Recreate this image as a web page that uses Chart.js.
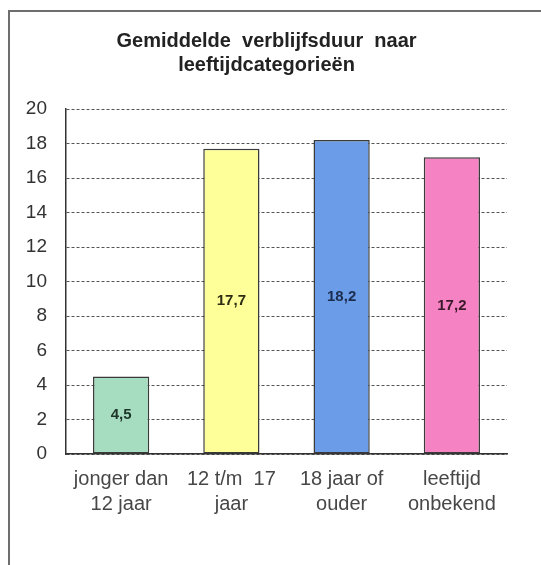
<!DOCTYPE html>
<html>
<head>
<meta charset="utf-8">
<script src="https://cdn.jsdelivr.net/npm/chart.js@4/dist/chart.umd.min.js"></script>
<style>
  html, body { margin: 0; padding: 0; background: #ffffff; }
  #wrap { position: relative; width: 541px; height: 565px; }
  #frame { position: absolute; left: 8px; top: 10px; width: 540px; height: 560px;
           border-left: 2px solid #6e6e6e; border-top: 2px solid #6e6e6e; pointer-events: none; }
  canvas { position: absolute; left: 0; top: 0; }
</style>
</head>
<body>
<div id="wrap">
  <canvas id="c" width="541" height="565"></canvas>
  <div id="frame"></div>
</div>
<script>
const titleLines = ['Gemiddelde  verblijfsduur  naar', 'leeftijdcategorieën'];
const categories = [
  ['jonger dan', '12 jaar'],
  ['12 t/m  17', 'jaar'],
  ['18 jaar of', 'ouder'],
  ['leeftijd', 'onbekend']
];
const values = [4.5, 17.7, 18.2, 17.2];
const valueLabels = ['4,5', '17,7', '18,2', '17,2'];
const barColors = ['#a6dcbf', '#ffff99', '#6b9ce8', '#f582c2'];
const labelColors = ['#1e3528', '#2c2c12', '#1b2c4e', '#3a1a2c'];
const yTicks = [0, 2, 4, 6, 8, 10, 12, 14, 16, 18, 20];

const FONT = "'Liberation Sans', Arial, sans-serif";

const valueLabelPlugin = {
  id: 'valueLabels',
  afterDatasetsDraw(chart) {
    const ctx = chart.ctx;
    const meta = chart.getDatasetMeta(0);
    ctx.save();
    ctx.font = 'bold 15px ' + FONT;
    ctx.textAlign = 'center';
    ctx.textBaseline = 'middle';
    meta.data.forEach((bar, i) => {
      const props = bar.getProps(['x', 'y', 'base'], true);
      ctx.fillStyle = labelColors[i];
      ctx.fillText(valueLabels[i], props.x, (props.y + props.base) / 2);
    });
    ctx.restore();
  }
};

new Chart(document.getElementById('c'), {
  type: 'bar',
  data: {
    labels: categories,
    datasets: [{
      data: values,
      backgroundColor: barColors,
      borderColor: '#3a3a3a',
      borderWidth: 1.5,
      borderSkipped: false,
      categoryPercentage: 1.0,
      barPercentage: 0.51
    }]
  },
  options: {
    responsive: false,
    animation: false,
    events: [],
    layout: { padding: { left: 26, right: 34, top: 0, bottom: 47 } },
    plugins: {
      legend: { display: false },
      tooltip: { enabled: false },
      title: {
        display: true,
        text: titleLines,
        color: '#222222',
        font: { family: FONT, size: 20, weight: 'bold', lineHeight: 1.2 },
        padding: { top: 29, bottom: 32 }
      }
    },
    scales: {
      x: {
        afterFit(axis) { axis.height = 64; },
        grid: { display: false, drawTicks: false },
        border: { display: true, color: '#333333', width: 1.5 },
        ticks: {
          color: '#474747',
          padding: 13,
          maxRotation: 0,
          autoSkip: false,
          font: { family: FONT, size: 20, lineHeight: 1.25 }
        }
      },
      y: {
        min: 0,
        max: 20,
        afterFit(axis) { axis.width = 40; },
        afterBuildTicks(axis) { axis.ticks = yTicks.map(v => ({ value: v })); },
        grid: { color: '#555555', lineWidth: 1, drawTicks: false },
        border: { display: true, color: '#333333', width: 1.5, dash: [3, 2], dashOffset: 0 },
        ticks: {
          color: '#333333',
          padding: 19,
          font: { family: FONT, size: 19 }
        }
      }
    }
  },
  plugins: [valueLabelPlugin]
});
</script>
</body>
</html>
